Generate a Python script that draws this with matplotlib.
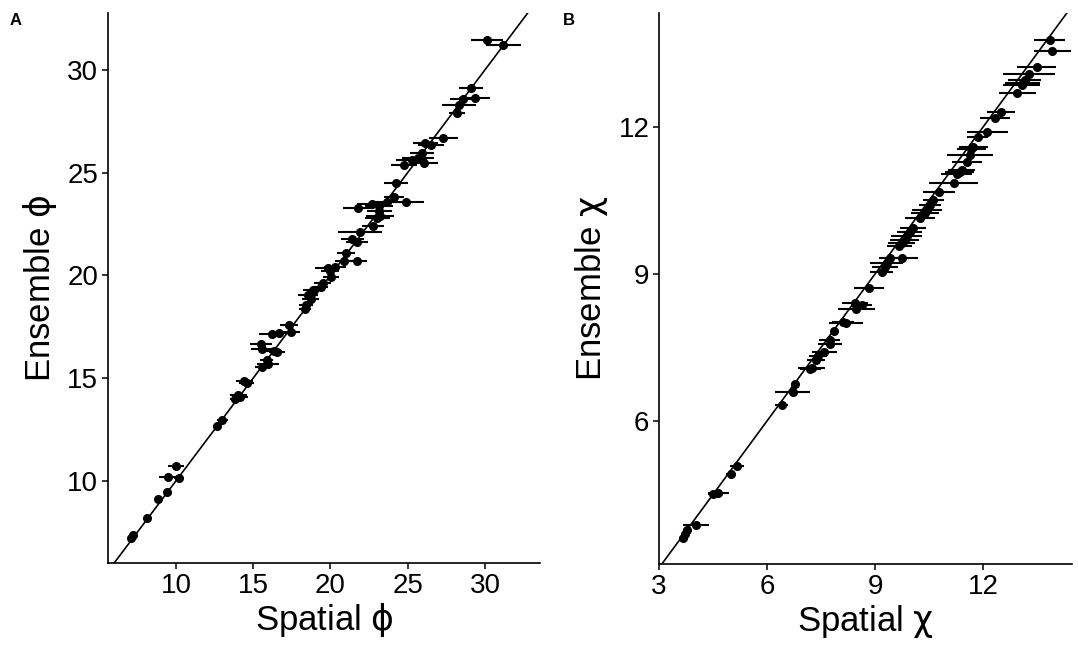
import numpy as np
import matplotlib
matplotlib.use('Agg')
import matplotlib.pyplot as plt

plt.rcParams['font.family'] = ['Liberation Sans', 'DejaVu Sans']
plt.rcParams['mathtext.fontset'] = 'dejavusans'

# panel A: spatial vs ensemble phi (x = spatial, y = ensemble, xerr = half width)
phi_x = [30.11, 31.19, 29.09, 28.60, 29.33, 28.30, 28.17, 27.30, 26.12, 26.49,
         25.92, 25.68, 25.25, 26.05, 24.76, 24.24, 24.11, 23.64, 24.89, 22.67,
         23.14, 21.80, 23.16, 23.20, 23.03, 22.77, 21.91, 21.41, 21.70, 21.00,
         20.87, 21.73, 19.82, 20.31, 19.97, 20.03, 19.50, 19.37, 18.89, 18.56,
         18.72, 18.41, 18.35, 17.33, 17.44, 16.19, 16.69, 15.50, 15.59, 16.56,
         16.34, 15.87, 15.97, 15.55, 14.42, 14.57, 14.03, 14.14, 13.82, 13.00,
         12.67, 10.00, 9.50, 10.19, 9.40, 8.85, 8.10, 7.24, 7.11]
phi_y = [31.43, 31.22, 29.14, 28.59, 28.64, 28.31, 27.92, 26.69, 26.46, 26.33,
         25.93, 25.70, 25.59, 25.47, 25.36, 24.50, 23.83, 23.58, 23.58, 23.45,
         23.38, 23.30, 23.14, 22.90, 22.78, 22.42, 22.13, 21.76, 21.60, 21.11,
         20.71, 20.69, 20.38, 20.40, 20.19, 19.91, 19.65, 19.43, 19.29, 19.05,
         18.84, 18.56, 18.35, 17.56, 17.24, 17.14, 17.17, 16.65, 16.41, 16.29,
         16.33, 15.86, 15.68, 15.56, 14.87, 14.78, 14.18, 14.10, 13.98, 12.97,
         12.68, 10.70, 10.19, 10.15, 9.45, 9.12, 8.18, 7.36, 7.23]
phi_err = [1.04, 1.12, 0.79, 0.84, 1.00, 1.09, 0.51, 0.95, 0.81, 0.84,
           0.79, 1.02, 0.99, 0.92, 0.86, 0.78, 0.67, 0.75, 1.19, 0.97,
           0.92, 0.97, 0.81, 0.92, 0.80, 0.70, 1.40, 0.75, 0.70, 0.57,
           0.59, 0.61, 0.81, 0.70, 0.60, 0.50, 0.55, 0.50, 0.70, 0.65,
           0.54, 0.45, 0.40, 0.57, 0.57, 0.80, 0.40, 0.70, 0.72, 0.52,
           0.50, 0.40, 0.70, 0.45, 0.54, 0.50, 0.54, 0.50, 0.35, 0.35,
           0.20, 0.53, 0.59, 0.35, 0.15, 0.15, 0.15, 0.20, 0.15]

# panel B: spatial vs ensemble chi
chi_x = [13.85, 13.91, 13.48, 13.27, 13.15, 13.09, 13.06, 12.94, 12.49, 12.32,
         12.11, 11.84, 11.72, 11.67, 11.63, 11.54, 11.40, 11.35, 11.26, 11.18,
         10.77, 10.61, 10.52, 10.44, 10.38, 10.24, 10.04, 9.96, 9.87, 9.82,
         9.73, 9.67, 9.73, 9.41, 9.32, 9.27, 9.18, 8.83, 8.44, 8.62,
         8.48, 8.19, 8.11, 7.86, 7.74, 7.74, 7.59, 7.42, 7.37, 7.24,
         7.20, 6.77, 6.71, 6.41, 5.16, 5.00, 4.65, 4.51, 4.02, 3.78,
         3.72, 3.66]
chi_y = [13.76, 13.55, 13.21, 13.08, 12.95, 12.90, 12.85, 12.69, 12.29, 12.17,
         11.89, 11.78, 11.59, 11.54, 11.42, 11.27, 11.12, 11.07, 11.03, 10.86,
         10.67, 10.50, 10.40, 10.30, 10.24, 10.13, 9.93, 9.86, 9.76, 9.69,
         9.62, 9.57, 9.33, 9.33, 9.21, 9.14, 9.04, 8.70, 8.40, 8.36,
         8.29, 7.99, 8.02, 7.84, 7.65, 7.57, 7.40, 7.32, 7.25, 7.07,
         7.06, 6.75, 6.59, 6.33, 5.08, 4.91, 4.53, 4.50, 3.87, 3.77,
         3.70, 3.61]
chi_err = [0.43, 0.51, 0.54, 0.72, 0.46, 0.48, 0.51, 0.51, 0.39, 0.42,
           0.57, 0.30, 0.40, 0.40, 0.64, 0.42, 0.38, 0.40, 0.43, 0.68,
           0.44, 0.29, 0.30, 0.42, 0.39, 0.42, 0.36, 0.35, 0.42, 0.40,
           0.37, 0.35, 0.47, 0.30, 0.46, 0.35, 0.32, 0.42, 0.35, 0.30,
           0.51, 0.48, 0.30, 0.10, 0.29, 0.34, 0.34, 0.25, 0.25, 0.37,
           0.30, 0.10, 0.49, 0.18, 0.19, 0.15, 0.29, 0.15, 0.36, 0.10,
           0.10, 0.10]

fig = plt.figure(figsize=(10.78, 6.46), dpi=100)
axA = fig.add_axes([0.1002, 0.1285, 0.4007, 0.8515])
axB = fig.add_axes([0.6113, 0.1269, 0.3831, 0.8531])


def style(ax):
    ax.spines['top'].set_visible(False)
    ax.spines['right'].set_visible(False)
    for s in ['left', 'bottom']:
        ax.spines[s].set_linewidth(1.2)
    ax.tick_params(direction='out', length=4, width=1.1, labelsize=20,
                   colors='black', pad=3)


axA.errorbar(phi_x, phi_y, xerr=phi_err, fmt='o', color='black', ms=5.5,
             elinewidth=1.5, capsize=0)
axA.axline((0, 0), slope=1, color='black', lw=1.2)
axA.set_xlim(5.6, 33.56)
axA.set_ylim(6.0, 32.77)
axA.set_xticks([10, 15, 20, 25, 30])
axA.set_yticks([10, 15, 20, 25, 30])
axA.set_xlabel('Spatial $\\mathrm{\\phi}$', fontsize=25, labelpad=2)
axA.set_ylabel('Ensemble $\\mathrm{\\phi}$', fontsize=25, labelpad=6)
style(axA)

axB.errorbar(chi_x, chi_y, xerr=chi_err, fmt='o', color='black', ms=5.5,
             elinewidth=1.5, capsize=0)
axB.axline((0, 0), slope=1, color='black', lw=1.2)
axB.set_xlim(3.0, 14.46)
axB.set_ylim(3.08, 14.32)
axB.set_xticks([3, 6, 9, 12])
axB.set_yticks([6, 9, 12])
axB.set_xlabel('Spatial $\\mathrm{\\chi}$', fontsize=25, labelpad=2)
axB.set_ylabel('Ensemble $\\mathrm{\\chi}$', fontsize=25, labelpad=6)
style(axB)

fig.text(0.009, 0.962, 'A', fontsize=12, fontweight='bold')
fig.text(0.522, 0.962, 'B', fontsize=12, fontweight='bold')

fig.savefig('out.png', dpi=100)
